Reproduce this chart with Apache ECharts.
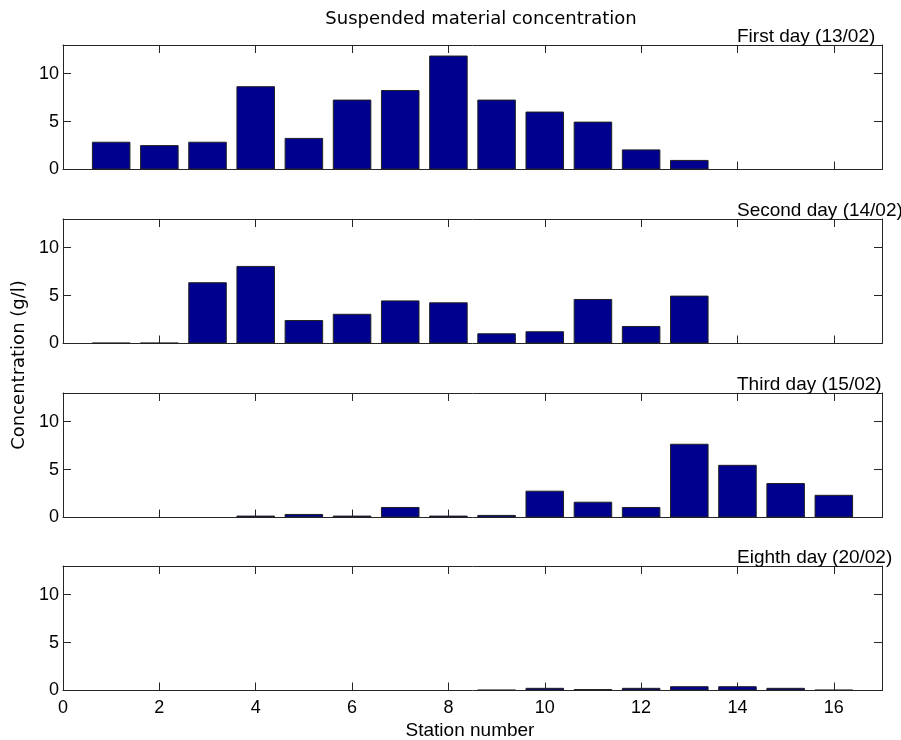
<!DOCTYPE html>
<html>
<head>
<meta charset="utf-8">
<script src="https://cdn.jsdelivr.net/npm/echarts@6/dist/echarts.min.js"></script>
<style>
html,body{margin:0;padding:0;background:#fff;}
#chart{width:901px;height:740px;}
</style>
</head>
<body>
<div id="chart"></div>
<script>
// ---- data ----
var stations = [1,2,3,4,5,6,7,8,9,10,11,12,13,14,15,16];
var day1 = [2.9, 2.55, 2.9, 8.7, 3.3, 7.3, 8.3, 11.9, 7.3, 6.05, 5.0, 2.1, 1.0, null, null, null];
var day2 = [0.08, 0.08, 6.4, 8.1, 2.45, 3.1, 4.5, 4.3, 1.07, 1.28, 4.65, 1.83, 5.0, null, null, null];
var day3 = [null, null, null, 0.2, 0.37, 0.2, 1.1, 0.2, 0.27, 2.8, 1.65, 1.1, 7.7, 5.5, 3.6, 2.37];
var day8 = [null, null, null, null, null, null, null, null, 0.07, 0.28, 0.15, 0.28, 0.45, 0.45, 0.28, 0.07];
var panelTitles = ['First day (13/02)', 'Second day (14/02)', 'Third day (15/02)', 'Eighth day (20/02)'];
var xTicks = [0,2,4,6,8,10,12,14,16];
var yTicks = [0,5,10];
var mainTitle = 'Suspended material concentration';
var xLabel = 'Station number';
var yLabel = 'Concentration (g/l)';

// ---- layout ----
var series = [day1, day2, day3, day8];
var gridTops = [45, 219, 393, 566];
var gridH = 124.5, gridL = 63, gridW = 819;
var xMin = 0, xMax = 17, yMin = 0, yMax = 13;
var barColor = '#00008F';
var lineColor = '#262626';
var tickFont = 'Liberation Sans, Arial, sans-serif';

var chart = echarts.init(document.getElementById('chart'));
var grids = [], xAxes = [], yAxes = [], ser = [], titles = [];

series.forEach(function (vals, i) {
  var last = i === series.length - 1;
  grids.push({left: gridL, top: gridTops[i], width: gridW, height: gridH, containLabel: false});
  var axLine = {show: true, onZero: false, lineStyle: {color: lineColor, width: 1}};
  var tick = {show: true, inside: true, length: 8, lineStyle: {color: lineColor}, customValues: xTicks};
  xAxes.push({
    gridIndex: i, type: 'value', position: 'bottom', min: xMin, max: xMax, interval: 2,
    axisLine: axLine, axisTick: tick, splitLine: {show: false},
    axisLabel: {show: last, customValues: xTicks, margin: 9, color: '#000', fontSize: 18, fontFamily: tickFont}
  });
  xAxes.push({
    gridIndex: i, type: 'value', position: 'top', min: xMin, max: xMax, interval: 2,
    axisLine: axLine, axisTick: tick, splitLine: {show: false}, axisLabel: {show: false}
  });
  var ytick = {show: true, inside: true, length: 8, lineStyle: {color: lineColor}, customValues: yTicks};
  yAxes.push({
    gridIndex: i, type: 'value', position: 'left', min: yMin, max: yMax, interval: 5,
    axisLine: axLine, axisTick: ytick, splitLine: {show: false},
    axisLabel: {customValues: yTicks, margin: 4, color: '#000', fontSize: 18, fontFamily: tickFont}
  });
  yAxes.push({
    gridIndex: i, type: 'value', position: 'right', min: yMin, max: yMax, interval: 5,
    axisLine: axLine, axisTick: ytick, splitLine: {show: false}, axisLabel: {show: false}
  });
  ser.push({
    type: 'bar', xAxisIndex: i * 2, yAxisIndex: i * 2,
    data: stations.map(function (s, j) { return [s, vals[j]]; }),
    barWidth: 0.8 * gridW / (xMax - xMin),
    itemStyle: {color: barColor, borderColor: '#222', borderWidth: 1},
    silent: true, animation: false
  });
  titles.push({
    text: panelTitles[i], left: 737, top: gridTops[i] - 18, padding: 0,
    textStyle: {fontSize: 19, fontWeight: 'normal', color: '#000', fontFamily: tickFont}
  });
});

chart.setOption({
  animation: false,
  title: titles,
  grid: grids,
  xAxis: xAxes,
  yAxis: yAxes,
  series: ser,
  graphic: [
    {type: 'text', x: 481, y: 19, style: {text: mainTitle, fill: '#000', font: '18px "DejaVu Sans"', textAlign: 'center', textVerticalAlign: 'middle'}},
    {type: 'text', x: 470, y: 731, style: {text: xLabel, fill: '#000', font: '19px "Liberation Sans"', textAlign: 'center', textVerticalAlign: 'middle'}},
    {type: 'text', x: 19, y: 365, rotation: Math.PI / 2, style: {text: yLabel, fill: '#000', font: '18px "DejaVu Sans"', textAlign: 'center', textVerticalAlign: 'middle'}}
  ]
});
</script>
</body>
</html>
